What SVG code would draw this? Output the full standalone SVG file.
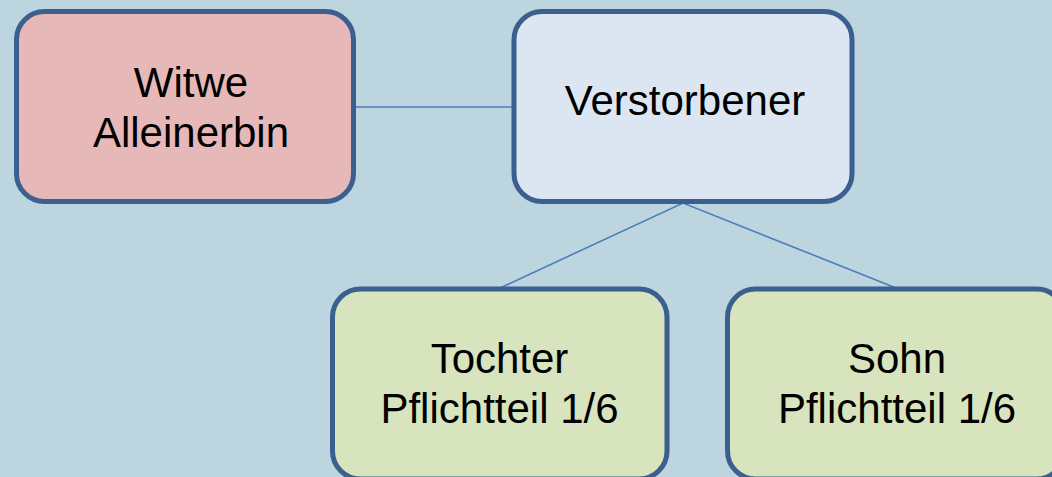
<svg xmlns="http://www.w3.org/2000/svg" width="1052" height="477" viewBox="0 0 1052 477">
<style>
.box{stroke:#3B5F8E;stroke-width:5}
.lbl{font-family:"Liberation Sans",Arial,sans-serif;font-size:42px;fill:#000;text-anchor:middle}
.conn{stroke:#4A7EBB;stroke-width:1.6;fill:none}
</style>
<rect x="0" y="0" width="1052" height="477" fill="#BCD5DF"/>
<g id="connectors">
<line class="conn" x1="355" y1="107" x2="512" y2="107"/>
<polyline class="conn" points="500,288 683,203 896,288"/>
</g>
<g id="witwe">
<rect class="box" x="16.5" y="11.5" width="337" height="190" rx="28" fill="#E6B8B7"/>
<text class="lbl" x="191" y="97">Witwe</text>
<text class="lbl" x="191" y="147">Alleinerbin</text>
</g>
<g id="verstorbener">
<rect class="box" x="514" y="11.5" width="338" height="190" rx="28" fill="#DCE6F2"/>
<text class="lbl" x="685" y="115">Verstorbener</text>
</g>
<g id="tochter">
<rect class="box" x="332.5" y="289" width="334.5" height="190" rx="28" fill="#D7E4BD"/>
<text class="lbl" x="499.5" y="373">Tochter</text>
<text class="lbl" x="499.5" y="423">Pflichtteil 1/6</text>
</g>
<g id="sohn">
<rect class="box" x="727.5" y="289" width="337" height="190" rx="28" fill="#D7E4BD"/>
<text class="lbl" x="897" y="373">Sohn</text>
<text class="lbl" x="897" y="423">Pflichtteil 1/6</text>
</g>
</svg>
